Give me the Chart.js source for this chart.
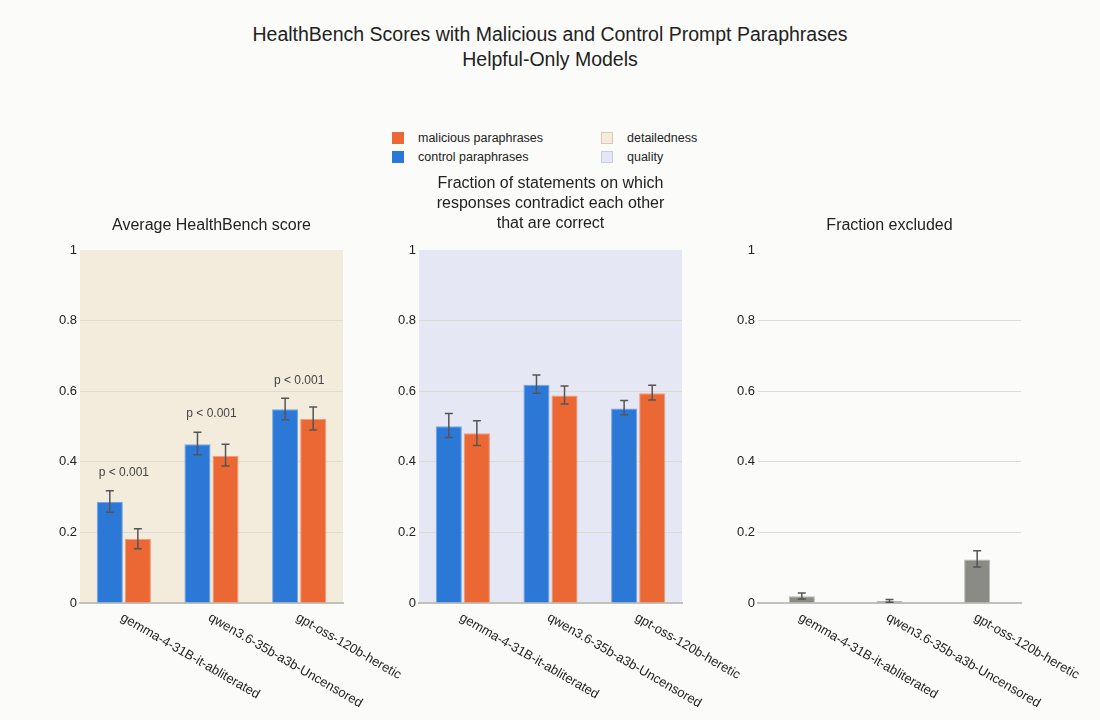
<!DOCTYPE html>
<html>
<head>
<meta charset="utf-8">
<title>HealthBench Scores with Malicious and Control Prompt Paraphrases</title>
<script src="https://cdn.jsdelivr.net/npm/chart.js@4.4.1/dist/chart.umd.min.js"></script>
<style>
    html, body {
        margin: 0;
        padding: 0;
        width: 1100px;
        height: 720px;
        overflow: hidden;
        background: #fbfbf9;
        font-family: "Liberation Sans", Arial, sans-serif;
        color: #222;
    }
    #main-title {
        position: absolute;
        left: 0;
        top: 22px;
        width: 1100px;
        text-align: center;
        font-size: 19.5px;
        line-height: 25px;
    }
    .legend-item {
        position: absolute;
        font-size: 12.5px;
        line-height: 14px;
        white-space: nowrap;
    }
    .legend-box {
        position: absolute;
        left: 0;
        top: 1px;
        width: 12px;
        height: 12px;
        box-sizing: border-box;
    }
    .legend-text {
        position: absolute;
        left: 26px;
        top: 0;
    }
    canvas {
        position: absolute;
        top: 170px;
    }
</style>
</head>
<body>
<div id="main-title">HealthBench Scores with Malicious and Control Prompt Paraphrases<br>Helpful-Only Models</div>
<div id="legend"></div>
<canvas id="chart-score" width="403" height="550" style="left:20px"></canvas>
<canvas id="chart-contradict" width="403" height="550" style="left:359px"></canvas>
<canvas id="chart-excluded" width="403" height="550" style="left:698px"></canvas>

<script>
    // Models on the x axis
    const models = ['gemma-4-31B-it-abliterated', 'qwen3.6-35b-a3b-Uncensored', 'gpt-oss-120b-heretic'];

    // Average HealthBench score
    const scoreControl = [0.287, 0.450, 0.549];
    const scoreControlLo = [0.257, 0.420, 0.519];
    const scoreControlHi = [0.318, 0.484, 0.580];
    const scoreMalicious = [0.181, 0.417, 0.521];
    const scoreMaliciousLo = [0.154, 0.388, 0.490];
    const scoreMaliciousHi = [0.210, 0.450, 0.555];
    const pValues = ['p < 0.001', 'p < 0.001', 'p < 0.001'];

    // Fraction of contradicting statements that are correct
    const contraControl = [0.501, 0.618, 0.551];
    const contraControlLo = [0.469, 0.594, 0.533];
    const contraControlHi = [0.537, 0.646, 0.574];
    const contraMalicious = [0.481, 0.588, 0.594];
    const contraMaliciousLo = [0.446, 0.564, 0.575];
    const contraMaliciousHi = [0.516, 0.615, 0.617];

    // Fraction excluded
    const excluded = [0.019, 0.006, 0.123];
    const excludedLo = [0.011, 0.002, 0.102];
    const excludedHi = [0.028, 0.010, 0.148];

    // Y axis ticks
    const yTicks = [0, 0.2, 0.4, 0.6, 0.8, 1];
    const yTickLabels = ['0', '0.2', '0.4', '0.6', '0.8', '1'];

    // Panel titles
    const panelTitles = [
        ['Average HealthBench score'],
        ['Fraction of statements on which', 'responses contradict each other', 'that are correct'],
        ['Fraction excluded']
    ];

    // Legend
    const legendSeries = ['malicious paraphrases', 'control paraphrases'];
    const legendPanels = ['detailedness', 'quality'];

    const FONT = '"Liberation Sans", Arial, sans-serif';
    const COLORS = {
        control: '#2b78d6',
        controlBorder: '#6ea5ea',
        malicious: '#eb6834',
        maliciousBorder: '#f39a76',
        excluded: '#8b8b85',
        excludedBorder: '#b8b8b2',
        detailedness: '#f3ebdc',
        detailednessBorder: '#e6c4b4',
        quality: '#e6e7f5',
        qualityBorder: '#c6cde8',
        grid: '#dddbd2',
        axis: '#c2c1b9',
        text: '#222',
        errorBar: '#555'
    };

    // Build the legend
    (function buildLegend() {
        const legend = document.getElementById('legend');
        const items = [
            { label: legendSeries[0], fill: COLORS.malicious, border: COLORS.malicious, x: 392, y: 131 },
            { label: legendSeries[1], fill: COLORS.control, border: COLORS.control, x: 392, y: 150 },
            { label: legendPanels[0], fill: COLORS.detailedness, border: COLORS.detailednessBorder, x: 601, y: 131 },
            { label: legendPanels[1], fill: COLORS.quality, border: COLORS.qualityBorder, x: 601, y: 150 }
        ];
        items.forEach(item => {
            const div = document.createElement('div');
            div.className = 'legend-item';
            div.style.left = item.x + 'px';
            div.style.top = item.y + 'px';
            div.innerHTML = '<span class="legend-box" style="background:' + item.fill +
                ';border:1px solid ' + item.border + '"></span><span class="legend-text">' + item.label + '</span>';
            legend.appendChild(div);
        });
    })();

    // Panel background behind the plot area
    const panelBackground = {
        id: 'panelBackground',
        beforeDraw(chart, args, opts) {
            if (!opts.color) return;
            const a = chart.chartArea;
            const ctx = chart.ctx;
            ctx.save();
            ctx.fillStyle = opts.color;
            ctx.fillRect(a.left, a.top, a.right - a.left, a.bottom - a.top);
            ctx.restore();
        }
    };

    // Error bars, drawn from per-dataset lo / hi arrays
    const errorBars = {
        id: 'errorBars',
        afterDatasetsDraw(chart) {
            const ctx = chart.ctx;
            const y = chart.scales.y;
            ctx.save();
            ctx.strokeStyle = COLORS.errorBar;
            ctx.lineWidth = 1.5;
            chart.data.datasets.forEach((ds, di) => {
                const meta = chart.getDatasetMeta(di);
                meta.data.forEach((bar, i) => {
                    const top = y.getPixelForValue(ds.hi[i]);
                    const bottom = y.getPixelForValue(ds.lo[i]);
                    ctx.beginPath();
                    ctx.moveTo(bar.x, top);
                    ctx.lineTo(bar.x, bottom);
                    ctx.moveTo(bar.x - 4, top);
                    ctx.lineTo(bar.x + 4, top);
                    ctx.moveTo(bar.x - 4, bottom);
                    ctx.lineTo(bar.x + 4, bottom);
                    ctx.stroke();
                });
            });
            ctx.restore();
        }
    };

    // p-value annotations above each group
    const pLabels = {
        id: 'pLabels',
        afterDatasetsDraw(chart, args, opts) {
            if (!opts.labels) return;
            const ctx = chart.ctx;
            const x = chart.scales.x;
            const y = chart.scales.y;
            ctx.save();
            ctx.font = '12px ' + FONT;
            ctx.fillStyle = '#444';
            ctx.textAlign = 'center';
            ctx.textBaseline = 'middle';
            opts.labels.forEach((label, i) => {
                const top = Math.max(...chart.data.datasets.map(ds => ds.hi[i]));
                ctx.fillText(label, x.getPixelForValue(i), y.getPixelForValue(top) - 18);
            });
            ctx.restore();
        }
    };

    // Rotated category labels that hang down to the right of each tick
    const slantedLabels = {
        id: 'slantedLabels',
        afterDraw(chart) {
            const ctx = chart.ctx;
            const x = chart.scales.x;
            ctx.save();
            ctx.font = '13px ' + FONT;
            ctx.fillStyle = COLORS.text;
            ctx.textAlign = 'left';
            ctx.textBaseline = 'top';
            chart.data.labels.forEach((label, i) => {
                ctx.save();
                ctx.translate(x.getPixelForValue(i) + 1, chart.chartArea.bottom + 8);
                ctx.rotate(Math.PI / 6);
                ctx.fillText(label, 0, 0);
                ctx.restore();
            });
            ctx.restore();
        }
    };

    /**
     * Build a panel chart
     */
    function makePanel(canvasId, title, titlePadding, datasets, background, barSizes, pText) {
        const ctx = document.getElementById(canvasId).getContext('2d');
        return new Chart(ctx, {
            type: 'bar',
            data: {
                labels: models,
                datasets: datasets
            },
            options: {
                responsive: false,
                animation: false,
                categoryPercentage: barSizes.category,
                barPercentage: barSizes.bar,
                layout: {
                    padding: { left: 20, right: 40, top: 0, bottom: 117 }
                },
                plugins: {
                    legend: { display: false },
                    tooltip: { enabled: false },
                    title: {
                        display: true,
                        text: title,
                        color: COLORS.text,
                        font: { family: FONT, size: 16, weight: 'normal', lineHeight: 1.25 },
                        padding: titlePadding
                    },
                    panelBackground: { color: background },
                    pLabels: { labels: pText }
                },
                scales: {
                    x: {
                        grid: { display: false, drawTicks: false },
                        border: { display: true, color: COLORS.axis, width: 2 },
                        ticks: { display: false }
                    },
                    y: {
                        min: 0,
                        max: 1,
                        afterFit: scale => { scale.width = 40; },
                        afterBuildTicks: scale => { scale.ticks = yTicks.map(v => ({ value: v })); },
                        grid: {
                            drawTicks: false,
                            color: c => (c.tick && (c.tick.value === 1 || c.tick.value === 0)) ? 'rgba(0,0,0,0)' : COLORS.grid
                        },
                        border: { display: false },
                        ticks: {
                            padding: 3,
                            color: COLORS.text,
                            font: { family: FONT, size: 13 },
                            callback: (value, index) => yTickLabels[index]
                        }
                    },
                    // empty right-hand axis so the panel title centres over the plot
                    yRight: {
                        position: 'right',
                        min: 0,
                        max: 1,
                        afterFit: scale => { scale.width = 40; },
                        grid: { display: false, drawTicks: false },
                        border: { display: false },
                        ticks: { display: false }
                    }
                }
            },
            plugins: [panelBackground, errorBars, pLabels, slantedLabels]
        });
    }

    const pairSizes = { category: 0.64, bar: 0.93 };
    const singleSizes = { category: 0.32, bar: 0.93 };

    function pairDatasets(control, controlLo, controlHi, malicious, maliciousLo, maliciousHi) {
        return [
            {
                label: legendSeries[1],
                data: control,
                lo: controlLo,
                hi: controlHi,
                backgroundColor: COLORS.control,
                borderColor: COLORS.controlBorder,
                borderWidth: 1
            },
            {
                label: legendSeries[0],
                data: malicious,
                lo: maliciousLo,
                hi: maliciousHi,
                backgroundColor: COLORS.malicious,
                borderColor: COLORS.maliciousBorder,
                borderWidth: 1
            }
        ];
    }

    makePanel('chart-score', panelTitles[0], { top: 46, bottom: 14 },
        pairDatasets(scoreControl, scoreControlLo, scoreControlHi, scoreMalicious, scoreMaliciousLo, scoreMaliciousHi),
        COLORS.detailedness, pairSizes, pValues);

    makePanel('chart-contradict', panelTitles[1], { top: 4, bottom: 16 },
        pairDatasets(contraControl, contraControlLo, contraControlHi, contraMalicious, contraMaliciousLo, contraMaliciousHi),
        COLORS.quality, pairSizes, null);

    makePanel('chart-excluded', panelTitles[2], { top: 46, bottom: 14 },
        [{
            label: 'excluded',
            data: excluded,
            lo: excludedLo,
            hi: excludedHi,
            backgroundColor: COLORS.excluded,
            borderColor: COLORS.excludedBorder,
            borderWidth: 1
        }],
        null, singleSizes, null);
</script>
</body>
</html>
